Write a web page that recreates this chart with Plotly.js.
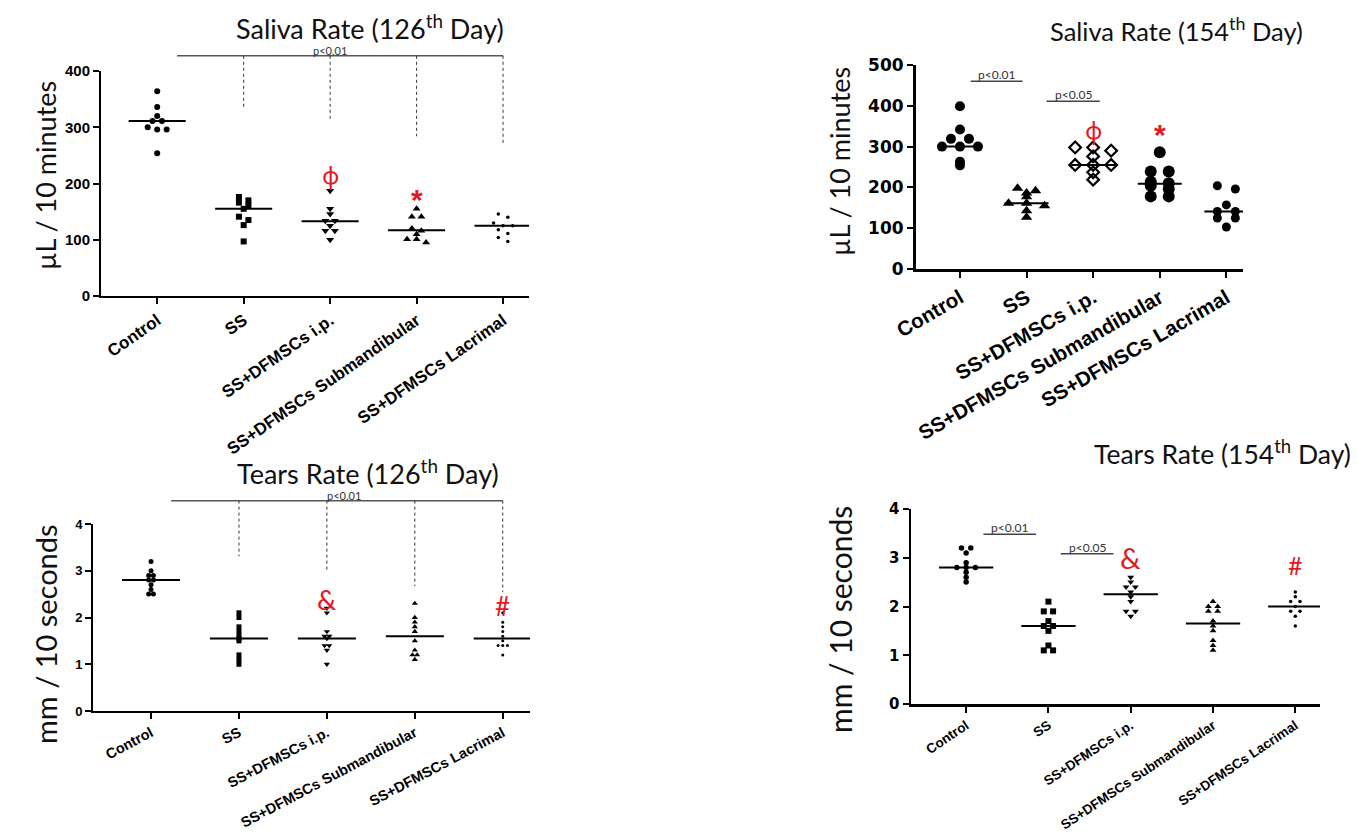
<!DOCTYPE html>
<html><head><meta charset="utf-8">
<script src="https://cdn.plot.ly/plotly-3.0.1.min.js"></script>
<style>html,body{margin:0;padding:0;background:#fff;} #chart{width:1357px;height:835px;}</style>
</head><body><div id="chart"></div>
<script>
// ---------- DATA ----------
const groups = ["Control", "SS", "SS+DFMSCs i.p.", "SS+DFMSCs Submandibular", "SS+DFMSCs Lacrimal"];

// Saliva rate, 126th day (µL / 10 minutes)
const saliva126_control = [364, 336, 320, 311, 311, 300, 296, 296, 254];
const saliva126_ss      = [176, 170, 166, 161, 155, 141, 135, 126, 97];
const saliva126_ip      = [187, 155, 146, 134, 134, 125, 116, 116, 100];
const saliva126_sub     = [155, 141, 141, 120, 116, 110, 101, 101, 95];
const saliva126_lac     = [146, 140, 130, 125, 125, 118, 111, 104, 97];
const saliva126_median  = [311, 155, 133, 117, 125];
const saliva126_sigLevel = 427;                 // bracket height (p<0.01, Control vs all)
const saliva126_sigEnds  = [336, 311, 284, 272]; // lower ends of dashed drops (SS..Lacrimal)

// Saliva rate, 154th day
const saliva154_control = [399, 342, 319, 319, 300, 300, 300, 263, 254];
const saliva154_ss      = [198, 192, 186, 177, 161, 161, 155, 143, 127];
const saliva154_ip      = [298, 298, 290, 276, 255, 255, 255, 237, 219];
const saliva154_sub     = [286, 239, 239, 214, 210, 204, 196, 178, 178];
const saliva154_lac     = [204, 196, 157, 141, 141, 125, 125, 103];
const saliva154_median  = [300, 161, 255, 209, 141];
const saliva154_sigLevels = [460, 411];
const saliva154_sigLabels = ["p<0.01", "p<0.05"];

// Tears rate, 126th day (mm / 10 seconds)
const tears126_control = [3.2, 3.0, 2.9, 2.9, 2.8, 2.8, 2.7, 2.6, 2.5, 2.5];
const tears126_ss      = [2.1, 2.0, 1.8, 1.7, 1.6, 1.55, 1.5, 1.2, 1.1, 1.0];
const tears126_ip      = [2.2, 2.1, 1.7, 1.6, 1.6, 1.55, 1.4, 1.4, 1.3, 1.0];
const tears126_sub     = [2.3, 2.0, 1.9, 1.8, 1.7, 1.5, 1.3, 1.2, 1.2, 1.1];
const tears126_lac     = [2.1, 1.9, 1.8, 1.7, 1.6, 1.5, 1.4, 1.4, 1.4, 1.2];
const tears126_median  = [2.8, 1.55, 1.55, 1.6, 1.55];
const tears126_sigLevel = 4.5;
const tears126_sigEnds  = [3.31, 3.0, 2.67, 2.54];

// Tears rate, 154th day
const tears154_control = [3.2, 3.2, 3.1, 2.9, 2.8, 2.8, 2.8, 2.7, 2.6, 2.5];
const tears154_ss      = [2.1, 1.9, 1.9, 1.7, 1.6, 1.6, 1.5, 1.2, 1.1, 1.1];
const tears154_ip      = [2.6, 2.5, 2.4, 2.4, 2.3, 2.2, 2.1, 1.9, 1.9, 1.8];
const tears154_sub     = [2.1, 2.0, 2.0, 1.9, 1.9, 1.7, 1.6, 1.5, 1.3, 1.2, 1.1];
const tears154_lac     = [2.3, 2.2, 2.1, 2.1, 2.0, 1.9, 1.9, 1.8, 1.6];
const tears154_median  = [2.8, 1.6, 2.25, 1.65, 2.0];
const tears154_sigLevels = [3.48, 3.08];
const tears154_sigLabels = ["p<0.01", "p<0.05"];

// ---------- LAYOUT GEOMETRY ----------
const W = 1357, H = 835;
const RED = "#e3191f";
const LABEL_FONT = "Lato, 'Open Sans', sans-serif";
const panels = [
  {ax: "", left: 101, right: 529, top: 71, bottom: 296, xr: [-0.65, 4.3], yr: [0, 400], dtick: 100,
   data: [saliva126_control, saliva126_ss, saliva126_ip, saliva126_sub, saliva126_lac], median: saliva126_median,
   symbols: ["circle", "square", "triangle-down", "triangle-up", "circle"], sizes: [6, 6, 7, 7, 3.5], lw: 0,
   rowPx: 4.5, stepPx: 9.5, tickFont: {family: "'Liberation Sans', Arial", size: 15, weight: 700}, xtickFont: 17, tickangle: -35, axisW: 2},
  {ax: "2", left: 916, right: 1243, top: 65, bottom: 269, xr: [-0.66, 4.25], yr: [0, 500], dtick: 100,
   data: [saliva154_control, saliva154_ss, saliva154_ip, saliva154_sub, saliva154_lac], median: saliva154_median,
   symbols: ["circle", "triangle-up", "diamond-open", "circle", "circle"], sizes: [10, 10, 9, 12, 9], lw: 2.2,
   rowPx: 3.5, stepPx: 18, tickFont: {family: "'DejaVu Sans'", size: 17, weight: 700}, xtickFont: 20.5, tickangle: -30, axisW: 3},
  {ax: "3", left: 93, right: 530, top: 524, bottom: 711, xr: [-0.66, 4.31], yr: [0, 4], dtick: 1,
   data: [tears126_control, tears126_ss, tears126_ip, tears126_sub, tears126_lac], median: tears126_median,
   symbols: ["circle", "square", "triangle-down", "triangle-up", "circle"], sizes: [5, 5, 5.5, 5.5, 3], lw: 0,
   rowPx: 2, stepPx: 4.7, tickFont: {family: "'Liberation Sans', Arial", size: 13, weight: 700}, xtickFont: 14.5, tickangle: -28, axisW: 2},
  {ax: "4", left: 911, right: 1320, top: 509, bottom: 704, xr: [-0.67, 4.3], yr: [0, 4], dtick: 1,
   data: [tears154_control, tears154_ss, tears154_ip, tears154_sub, tears154_lac], median: tears154_median,
   symbols: ["circle", "square", "triangle-down", "triangle-up", "circle"], sizes: [5.5, 6, 6, 6, 3.5], lw: 0,
   rowPx: 3, stepPx: 9.3, tickFont: {family: "'DejaVu Sans'", size: 15, weight: 700}, xtickFont: 13.5, tickangle: -34, axisW: 2.5}
];

function toPaper(p, xc, yv) {
  const px = p.left + (xc - p.xr[0]) / (p.xr[1] - p.xr[0]) * (p.right - p.left);
  const py = p.bottom - (yv - p.yr[0]) / (p.yr[1] - p.yr[0]) * (p.bottom - p.top);
  return [px / W, 1 - py / H];
}
function swarm(vals, idx, p) {
  const pyPerUnit = (p.bottom - p.top) / (p.yr[1] - p.yr[0]);
  const pxPerCat = (p.right - p.left) / (p.xr[1] - p.xr[0]);
  const sorted = vals.slice().sort((a, b) => b - a);
  const rows = [];
  sorted.forEach(v => {
    const r = rows[rows.length - 1];
    if (r && (r[0] - v) * pyPerUnit < p.rowPx) r.push(v); else rows.push([v]);
  });
  const xs = [], ys = [];
  rows.forEach(r => r.forEach((v, i) => { xs.push(idx + (i - (r.length - 1) / 2) * p.stepPx / pxPerCat); ys.push(v); }));
  return {xs, ys};
}

const traces = [];
const layout = {
  width: W, height: H, margin: {l: 0, r: 0, t: 0, b: 0},
  paper_bgcolor: "#fff", plot_bgcolor: "rgba(0,0,0,0)", showlegend: false,
  shapes: [], annotations: []
};

panels.forEach(p => {
  const xa = "x" + p.ax, ya = "y" + p.ax;
  p.data.forEach((vals, gi) => {
    const s = swarm(vals, gi, p);
    const open = p.symbols[gi].indexOf("open") >= 0;
    traces.push({
      type: "scatter", mode: "markers", x: s.xs, y: s.ys, xaxis: xa, yaxis: ya, name: groups[gi],
      cliponaxis: false, hoverinfo: "y",
      marker: {symbol: p.symbols[gi], size: p.sizes[gi], color: "#000",
               line: {width: open ? p.lw : 0, color: "#000"}}
    });
    traces.push({
      type: "scatter", mode: "lines", x: [gi - 0.33, gi + 0.33], y: [p.median[gi], p.median[gi]],
      xaxis: xa, yaxis: ya, line: {color: "#000", width: 2}, hoverinfo: "skip"
    });
  });
  const xk = "xaxis" + p.ax, yk = "yaxis" + p.ax;
  layout[xk] = {
    domain: [p.left / W, p.right / W], range: p.xr, anchor: ya,
    tickmode: "array", tickvals: [0, 1, 2, 3, 4], ticktext: groups, tickangle: p.tickangle,
    tickfont: {family: "'Liberation Sans', Arial", size: p.xtickFont, color: "#000", weight: 700},
    showline: true, linecolor: "#000", linewidth: p.axisW, ticks: "outside", ticklen: 6, tickwidth: 2, tickcolor: "#000",
    showgrid: false, zeroline: false, fixedrange: true
  };
  layout[yk] = {
    domain: [1 - p.bottom / H, 1 - p.top / H], range: p.yr, anchor: xa, dtick: p.dtick, tick0: 0,
    tickfont: Object.assign({color: "#000"}, p.tickFont),
    showline: true, linecolor: "#000", linewidth: p.axisW, ticks: "outside", ticklen: 6, tickwidth: 2, tickcolor: "#000",
    showgrid: false, zeroline: false, fixedrange: true
  };
});

// ---------- significance brackets ----------
function line(p0, p1, dash, color, width) {
  layout.shapes.push({type: "line", xref: "paper", yref: "paper", x0: p0[0], y0: p0[1], x1: p1[0], y1: p1[1],
    line: {color: color, width: width, dash: dash}});
}
function ptext(pt, txt, size) {
  layout.annotations.push({xref: "paper", yref: "paper", x: pt[0], y: pt[1], text: txt, showarrow: false,
    xanchor: "center", yanchor: "bottom", yshift: -3, font: {family: LABEL_FONT, size: size, color: "#333"}});
}
// Panel 1 and 3: Control vs all others
[[panels[0], saliva126_sigLevel, saliva126_sigEnds, 2.0], [panels[2], tears126_sigLevel, tears126_sigEnds, 2.2]].forEach(([p, lvl, ends, tx]) => {
  line(toPaper(p, 0.23, lvl), toPaper(p, 4.0, lvl), "solid", "#555", 1.5);
  ends.forEach((e, i) => line(toPaper(p, i + 1, lvl), toPaper(p, i + 1, e), "dot", "#333", 1));
  ptext(toPaper(p, tx, lvl), "p<0.01", 11);
});
// Panels 2 and 4: pairwise
const pairSpans154s = [[0.16, 0.94], [1.3, 2.1]];
const pairSpans154t = [[0.21, 0.85], [1.15, 1.79]];
[[panels[1], saliva154_sigLevels, saliva154_sigLabels, pairSpans154s], [panels[3], tears154_sigLevels, tears154_sigLabels, pairSpans154t]].forEach(([p, lvls, labs, spans]) => {
  lvls.forEach((lvl, i) => {
    line(toPaper(p, spans[i][0], lvl), toPaper(p, spans[i][1], lvl), "solid", "#444", 1.5);
    ptext(toPaper(p, (spans[i][0] + spans[i][1]) / 2, lvl), labs[i], 12);
  });
});

// ---------- red markers ----------
function red(ax, x, y, txt, size, family) {
  layout.annotations.push({xref: "x" + ax, yref: "y" + ax, x: x, y: y, text: txt, showarrow: false,
    xanchor: "center", yanchor: "middle", font: {family: family || LABEL_FONT, size: size, color: RED}});
}
red("", 2, 216, "ϕ", 24, "'Noto Sans'");
red("", 3, 172, "<b>*</b>", 30, "'Liberation Sans'");
red("2", 2, 343, "ϕ", 24, "'Noto Sans'");
red("2", 3, 330, "<b>*</b>", 30, "'Liberation Sans'");
red("3", 2, 2.38, "&", 27);
red("3", 4, 2.25, "#", 26);
red("4", 2, 3.0, "&", 29);
red("4", 4, 2.86, "#", 25);

// ---------- titles ----------
function ptitle(px, py, txt, size, angle) {
  layout.annotations.push({xref: "paper", yref: "paper", x: px / W, y: 1 - py / H, text: txt, showarrow: false,
    xanchor: "center", yanchor: "middle", textangle: angle || 0, font: {family: LABEL_FONT, size: size, color: "#111"}});
}
ptitle(370, 27, "Saliva Rate (126<sup>th</sup> Day)", 27);
ptitle(1176, 29, "Saliva Rate (154<sup>th</sup> Day)", 25.5);
ptitle(368, 472, "Tears Rate (126<sup>th</sup> Day)", 27);
ptitle(1222, 452, "Tears Rate (154<sup>th</sup> Day)", 26.5);
ptitle(45, 176, "µL / 10 minutes", 27, -90);
ptitle(839, 162, "µL / 10 minutes", 27, -90);
ptitle(45, 634, "mm / 10 seconds", 29, -90);
ptitle(840, 620, "mm / 10 seconds", 30, -90);

Plotly.newPlot("chart", traces, layout, {staticPlot: true, displayModeBar: false});
</script>
</body></html>
